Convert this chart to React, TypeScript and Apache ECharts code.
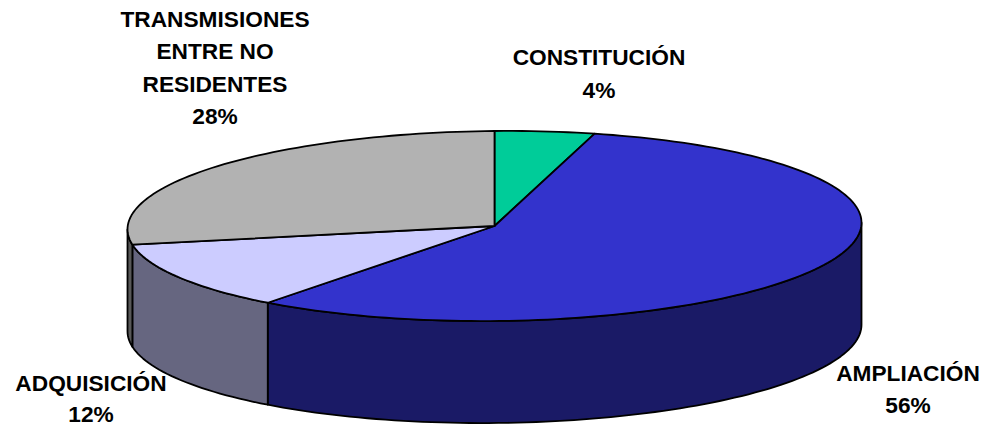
import React, { useEffect, useRef } from "react";
import * as echarts from "echarts";

// Slice names and shares (%), clockwise from 12 o'clock. Shown as rounded percentages.
const sliceNames = ["CONSTITUCIÓN", "AMPLIACIÓN", "ADQUISICIÓN", "TRANSMISIONES\nENTRE NO\nRESIDENTES"];
const sliceValues = [4.4, 56.2, 11.8, 27.6];
const topColors = ["#00CC99", "#3333CC", "#CCCCFF", "#B2B2B2"];
const sideColors = ["#006650", "#1A1A66", "#666680", "#595959"];

// Geometry of the tilted disc and the label anchors (x, first line's centre y, line step)
const CX = 494.5, CY = 226, RX = 367, RY = 95, DEPTH = 102, SHEAR = -0.009;
const labelAnchors = [
  [599, 57, 32.5],
  [908, 373, 32],
  [91, 382.5, 31],
  [215, 18.5, 32.5],
];

const total = sliceValues.reduce((a, b) => a + b, 0);
const rad = (d: number) => (d * Math.PI) / 180;
const rim = (t: number, dy = 0): number[] => {
  const dx = RX * Math.sin(rad(t));
  return [CX + dx, CY - RY * Math.cos(rad(t)) + SHEAR * dx + dy];
};
const arcPts = (a: number, b: number, dy = 0) => {
  const pts: number[][] = [];
  const n = Math.max(1, Math.ceil(Math.abs(b - a) / 1.5));
  for (let i = 0; i <= n; i++) pts.push(rim(a + ((b - a) * i) / n, dy));
  return pts;
};

const stroke = { stroke: "#000", lineWidth: 1.8, lineJoin: "round" };

function renderItem(params: any, api: any) {
  const idx = params.dataIndex;
  const value = api.value(0);
  let before = 0;
  for (let i = 0; i < idx; i++) before += sliceValues[i];
  const a = (before / total) * 360;
  const b = ((before + value) / total) * 360;
  const children: any[] = [];
  // front wall: only the part of the rim between 90 and 270 degrees is seen
  const wa = Math.max(a, 90);
  const wb = Math.min(b, 270);
  if (wb > wa) {
    children.push({
      type: "polygon",
      shape: { points: [...arcPts(wa, wb), ...arcPts(wb, wa, DEPTH)] },
      style: { fill: sideColors[idx], ...stroke },
    });
  }
  children.push({
    type: "polygon",
    shape: { points: [[CX, CY], ...arcPts(a, b)] },
    style: { fill: topColors[idx], ...stroke },
  });
  const [lx, ly, step] = labelAnchors[idx];
  const lines = [...sliceNames[idx].split("\n"), `${Math.round((value / total) * 100)}%`];
  lines.forEach((line, i) => {
    children.push({
      type: "text",
      style: {
        text: line,
        x: lx,
        y: ly + i * step,
        align: "center",
        verticalAlign: "middle",
        font: 'bold 22.7px "Liberation Sans", Arial, sans-serif',
        fill: "#000",
      },
    });
  });
  return { type: "group", children };
}

export default function App() {
  const ref = useRef<HTMLDivElement>(null);
  useEffect(() => {
    const chart = echarts.init(ref.current!, undefined, { renderer: "svg" });
    chart.setOption({
      animation: false,
      backgroundColor: "#fff",
      series: [
        {
          type: "custom",
          coordinateSystem: "none",
          renderItem,
          clip: false,
          silent: true,
          data: sliceValues.map((v, i) => ({ name: sliceNames[i], value: [v] })),
        },
      ],
    });
    return () => chart.dispose();
  }, []);
  return <div ref={ref} style={{ position: "absolute", left: 0, top: 0, width: 983, height: 425 }} />;
}
